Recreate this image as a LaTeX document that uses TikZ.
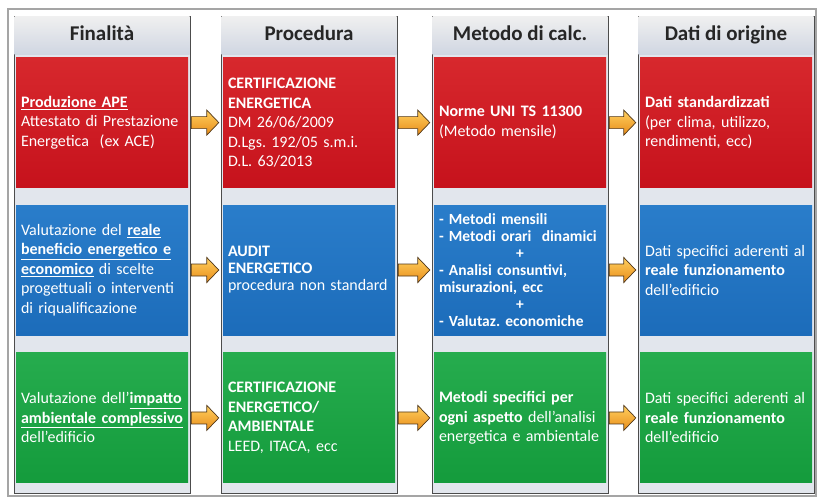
\documentclass[tikz,border=0pt]{standalone}
\usepackage{fontspec}
\setmainfont{Carlito}
\frenchspacing
\usetikzlibrary{calc,positioning}
\definecolor{cornice}{RGB}{165,165,165}
\definecolor{fondocol}{RGB}{226,230,237}
\definecolor{testasu}{RGB}{240,240,240}
\definecolor{testagiu}{RGB}{208,214,226}
\definecolor{rossosu}{RGB}{215,40,45}
\definecolor{rossogiu}{RGB}{198,18,28}
\definecolor{blusu}{RGB}{42,125,202}
\definecolor{blugiu}{RGB}{28,108,186}
\definecolor{verdesu}{RGB}{38,172,78}
\definecolor{verdegiu}{RGB}{20,155,60}
\definecolor{aranciosu}{RGB}{255,208,95}
\definecolor{aranciogiu}{RGB}{232,140,25}
\definecolor{marrone}{RGB}{80,55,25}
\tikzset{
  colonna/.style={
    draw=black!70,
    line width=.8pt,
    fill=fondocol,
    minimum width=176pt,
    minimum height=477pt,
    inner sep=0pt
  },
  testata/.style={
    top color=testasu,
    bottom color=testagiu,
    minimum width=175pt,
    minimum height=38pt,
    text height=15pt,
    text depth=4pt,
    inner sep=0pt,
    font=\fontsize{21}{25}\selectfont\bfseries,
    text=black!85
  },
  blocco/.style={
    text width=162pt,
    inner xsep=5pt,
    inner ysep=0pt,
    minimum height=130pt,
    align=left,
    text=white,
    font=\fontsize{16}{19.5}\selectfont
  },
  rosso/.style={blocco, top color=rossosu, middle color=rossogiu, bottom color=rossogiu},
  blu/.style={blocco, top color=blusu, middle color=blugiu, bottom color=blugiu},
  verde/.style={blocco, top color=verdesu, middle color=verdegiu, bottom color=verdegiu},
  freccia/.style={
    draw=marrone,
    line width=.7pt,
    line join=miter,
    top color=aranciosu,
    bottom color=aranciogiu,
    to path={let \p1=(\tikztostart), \p2=(\tikztotarget) in
      (\x1+3pt,\y1+6pt) -- (\x2-16pt,\y1+6pt) -- (\x2-16pt,\y1+12.5pt) -- (\x2-4pt,\y1)
      -- (\x2-16pt,\y1-12.5pt) -- (\x2-16pt,\y1-6pt) -- (\x1+3pt,\y1-6pt) -- cycle}
  }
}
\newcommand{\piu}{\makebox[162pt]{+}}

\begin{document}
\begin{tikzpicture}[x=1pt, y=-1pt]
\useasboundingbox (0,0) rectangle (817,498);
\draw[cornice, line width=1.2pt] (8,9) rectangle (816,496);
% colonne
\node[colonna] (k1) at (102,254.5) {};
\node[colonna] (k2) at (309,254.5) {};
\node[colonna] (k3) at (520,254.5) {};
\node[colonna] (k4) at (726,254.5) {};
% testate
\node[testata, below=.4pt of k1.north] (h1) {Finalità};
\node[testata, below=.4pt of k2.north] (h2) {Procedura};
\node[testata, below=.4pt of k3.north] (h3) {Metodo di calc.};
\node[testata, below=.4pt of k4.north] (h4) {Dati di origine};
% riga rossa
\node[rosso, below=3pt of h1] (r1) {\underline{\textbf{Produzione APE}}\\
  Attestato di Prestazione\\ Energetica~ (ex ACE)};
\node[rosso, below=3pt of h2] (r2) {\textbf{CERTIFICAZIONE}\\ \textbf{ENERGETICA}\\
  DM 26/06/2009\\ D.Lgs. 192/05 s.m.i.\\ D.L. 63/2013};
\node[rosso, below=3pt of h3] (r3) {\textbf{Norme UNI TS 11300}\\ (Metodo mensile)};
\node[rosso, below=3pt of h4] (r4) {\textbf{Dati standardizzati}\\ (per clima, utilizzo,\\ rendimenti, ecc)};
% riga blu
\node[blu, below=17pt of r1] (b1) {Valutazione del \underline{\textbf{reale}}\\
  \underline{\textbf{beneficio energetico e}}\\ \underline{\textbf{economico}} di scelte\\
  progettuali o interventi\\ di riqualificazione};
\node[blu, below=17pt of r2, font=\fontsize{16}{17}\selectfont] (b2) {\textbf{AUDIT}\\ \textbf{ENERGETICO}\\ procedura non standard};
\node[blu, below=17pt of r3, font=\fontsize{15.5}{17}\selectfont\bfseries] (b3) {- Metodi mensili\\
  - Metodi orari~ dinamici\\ \piu\\ - Analisi consuntivi,\\ misurazioni, ecc\\ \piu\\ - Valutaz. economiche};
\node[blu, below=17pt of r4] (b4) {Dati specifici aderenti al\\ \textbf{reale funzionamento}\\ dell'edificio};
% riga verde
\node[verde, below=17.5pt of b1] (g1) {Valutazione dell'\underline{\textbf{impatto}}\\
  \underline{\textbf{ambientale complessivo}}\\ dell'edificio\\[10pt]};
\node[verde, below=17.5pt of b2] (g2) {\textbf{CERTIFICAZIONE}\\ \textbf{ENERGETICO/}\\
  \textbf{AMBIENTALE}\\ LEED, ITACA, ecc};
\node[verde, below=17.5pt of b3] (g3) {\textbf{Metodi specifici per}\\
  \textbf{ogni aspetto} dell'analisi\\ energetica e ambientale};
\node[verde, below=17.5pt of b4] (g4) {Dati specifici aderenti al\\ \textbf{reale funzionamento}\\ dell'edificio};
% frecce
\draw[freccia] (r1.east) to (r2.west);
\draw[freccia] (r2.east) to (r3.west);
\draw[freccia] (r3.east) to (r4.west);
\draw[freccia] (b1.east) to (b2.west);
\draw[freccia] (b2.east) to (b3.west);
\draw[freccia] (b3.east) to (b4.west);
\draw[freccia] (g1.east) to (g2.west);
\draw[freccia] (g2.east) to (g3.west);
\draw[freccia] (g3.east) to (g4.west);
\end{tikzpicture}
\end{document}
